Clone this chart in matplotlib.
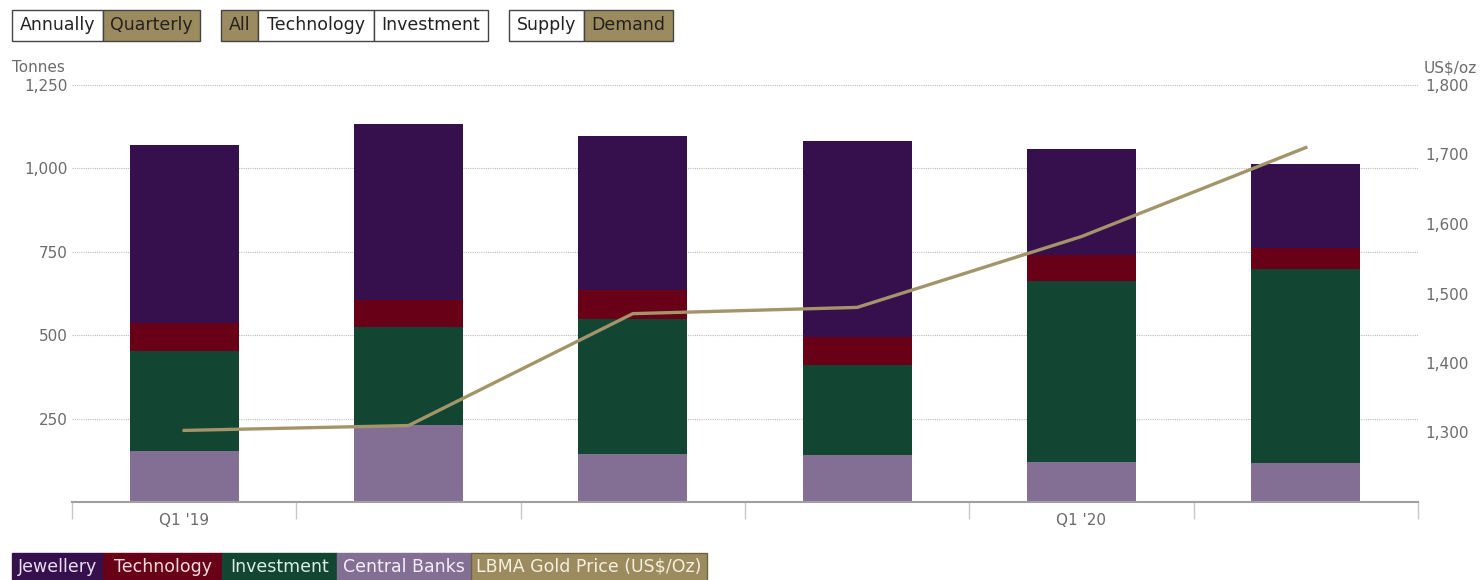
import matplotlib
matplotlib.use('Agg')
import matplotlib.pyplot as plt
from matplotlib.patches import Rectangle
from matplotlib.ticker import FuncFormatter
import numpy as np

quarters = ['Q1 \'19', 'Q2 \'19', 'Q3 \'19', 'Q4 \'19', 'Q1 \'20', 'Q2 \'20']
central_banks = [153, 231, 144, 141, 120, 117]
investment = [300, 294, 404, 270, 542, 581]
technology = [84, 80, 87, 84, 78, 63]
jewellery = [533, 528, 462, 587, 318, 252]
gold_price = [1303, 1310, 1471, 1480, 1582, 1710]

W, H = 1481, 580
C_JEW = '#35104d'
C_TECH = '#680018'
C_INV = '#124532'
C_CB = '#846f94'
C_GOLD = '#a39469'
C_BTN = '#9c8b5e'
GREY = '#6b6b6b'

fig = plt.figure(figsize=(W / 100, H / 100), dpi=100)
ax = fig.add_axes([72 / W, 1 - 502 / H, (1418 - 72) / W, (502 - 85) / H])

x = np.arange(len(quarters))
bw = 0.485
bottom = np.zeros(len(x))
for vals, col in [(central_banks, C_CB), (investment, C_INV),
                  (technology, C_TECH), (jewellery, C_JEW)]:
    ax.bar(x, vals, bw, bottom=bottom, color=col, zorder=2)
    bottom += np.array(vals)

ax.set_xlim(-0.5, len(x) - 0.5)
ax.set_ylim(0, 1250)
ax.set_yticks([250, 500, 750, 1000, 1250])
ax.yaxis.set_major_formatter(FuncFormatter(lambda v, p: f'{int(v):,}'))
ax.grid(axis='y', linestyle=(0, (1, 1)), color='#bdbdbd', linewidth=0.8, zorder=0)
ax.tick_params(axis='y', length=0, labelsize=11, labelcolor=GREY, pad=3)

ax.set_xticks(np.arange(-0.5, len(x)))
ax.set_xticklabels([])
ax.tick_params(axis='x', which='major', length=12, color='#c8c8c8', width=1)
ax.set_xticks([0, 4], minor=True)
ax.set_xticklabels([quarters[0], quarters[4]], minor=True)
ax.tick_params(axis='x', which='minor', length=0, labelsize=11, labelcolor=GREY, pad=8)

for s in ['top', 'right', 'left']:
    ax.spines[s].set_visible(False)
ax.spines['bottom'].set_color('#a0a0a0')
ax.spines['bottom'].set_linewidth(1.5)

ax2 = ax.twinx()
ax2.plot(x, gold_price, color=C_GOLD, linewidth=2.4, zorder=3)
ax2.set_ylim(1200, 1800)
ax2.set_yticks([1300, 1400, 1500, 1600, 1700, 1800])
ax2.yaxis.set_major_formatter(FuncFormatter(lambda v, p: f'{int(v):,}'))
ax2.tick_params(axis='y', length=0, labelsize=11, labelcolor=GREY, pad=5)
for s in ['top', 'right', 'left', 'bottom']:
    ax2.spines[s].set_visible(False)

fig.text(12 / W, 1 - 68 / H, 'Tonnes', fontsize=11, color=GREY, va='center', ha='left')
fig.text(1424 / W, 1 - 68 / H, 'US$/oz', fontsize=11, color=GREY, va='center', ha='left')


def button(x0, x1, y0, y1, label, face, tcolor, edge='#444444'):
    fig.patches.append(Rectangle((x0 / W, 1 - y1 / H), (x1 - x0) / W, (y1 - y0) / H,
                                 transform=fig.transFigure, facecolor=face,
                                 edgecolor=edge, linewidth=1))
    fig.text((x0 + x1) / 2 / W, 1 - (y0 + y1) / 2 / H, label, fontsize=12.5,
             color=tcolor, ha='center', va='center')


button(12, 103, 10, 41, 'Annually', 'white', '#222222')
button(103, 200, 10, 41, 'Quarterly', C_BTN, '#222222')
button(221, 258, 10, 41, 'All', C_BTN, '#222222')
button(258, 374, 10, 41, 'Technology', 'white', '#222222')
button(374, 488, 10, 41, 'Investment', 'white', '#222222')
button(509, 584, 10, 41, 'Supply', 'white', '#222222')
button(584, 673, 10, 41, 'Demand', C_BTN, '#222222')

button(12, 103, 553, 581, 'Jewellery', C_JEW, '#e8def0', edge=C_JEW)
button(103, 222, 553, 581, 'Technology', C_TECH, '#f0dde0', edge=C_TECH)
button(222, 337, 553, 581, 'Investment', C_INV, '#dbeee2', edge=C_INV)
button(337, 471, 553, 581, 'Central Banks', C_CB, '#f3eef7', edge=C_CB)
button(471, 707, 553, 581, 'LBMA Gold Price (US$/Oz)', C_BTN, '#f5f0e0', edge='#6e6440')

fig.savefig('out.png', dpi=100)
